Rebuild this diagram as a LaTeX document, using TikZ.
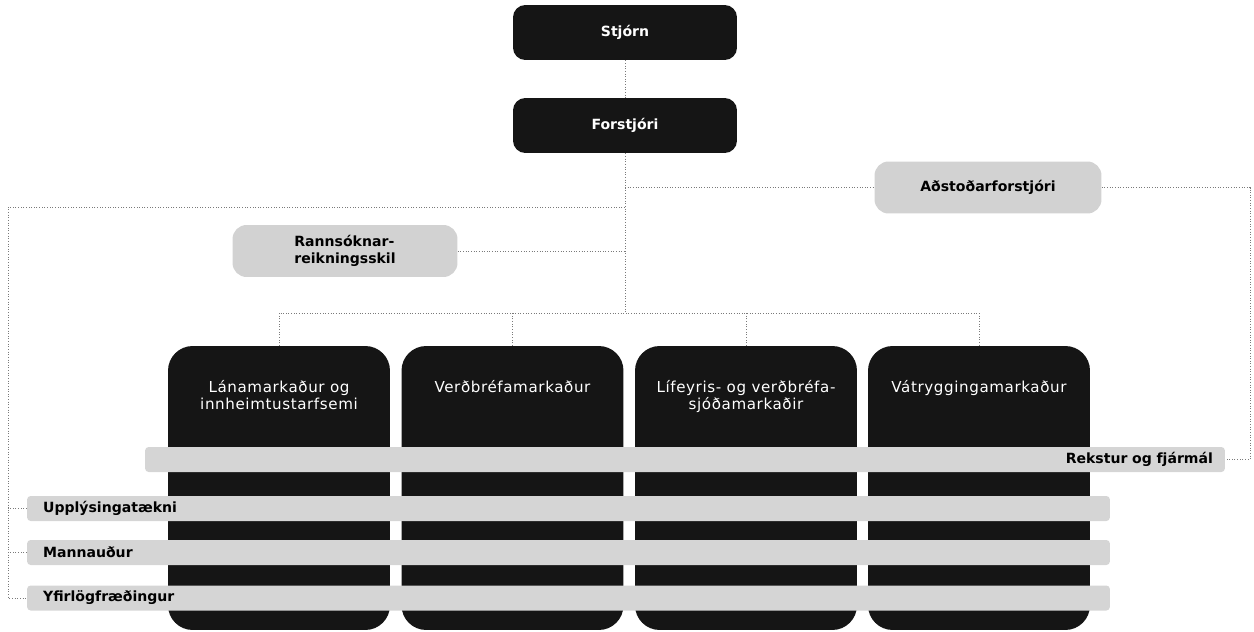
\documentclass[tikz,border=0pt]{standalone}
\usepackage{fontspec}
\setmainfont{DejaVu Sans}
\newfontfamily\colfont[LetterSpace=4]{DejaVu Sans}
\usetikzlibrary{positioning}

\definecolor{boxblack}{HTML}{151515}
\definecolor{boxgray}{HTML}{D2D2D2}
\definecolor{bandgray}{HTML}{D5D5D5}
\definecolor{linegray}{HTML}{7A7A7A}

\begin{document}
\begin{tikzpicture}[x=0.02cm,y=-0.02cm,
	topbox/.style={fill=boxblack, rounded corners=7pt, minimum width=4.48cm, minimum height=1.1cm,
		text=white, font=\fontsize{8}{10}\selectfont\bfseries},
	graybox/.style={fill=boxgray, rounded corners=8pt, minimum height=1.04cm, align=left,
		font=\fontsize{8}{9.5}\selectfont\bfseries},
	colbox/.style={fill=boxblack, rounded corners=14pt, minimum width=4.44cm, minimum height=5.68cm},
	coltext/.style={text=white, align=center, inner sep=0pt, font=\colfont\fontsize{8.6}{9.8}\selectfont},
	band/.style={fill=bandgray, rounded corners=2pt, minimum height=0.5cm, inner ysep=0pt,
		font=\fontsize{8}{9}\selectfont\bfseries},
	conn/.style={densely dotted, linegray, line width=0.5pt}]

	\useasboundingbox (0,0) rectangle (1254,632);

	% top of the chart
	\node [topbox] (stjorn) at (625,32.5) {Stjórn};
	\node [topbox] (forstjori) at (625,125.5) {Forstjóri};
	\node [graybox, minimum width=4.54cm] (adstod) at (988,187.5) {Aðstoðarforstjóri};
	\node [graybox, minimum width=4.5cm] (rann) at (345,251) {Rannsóknar-\\reikningsskil};

	% market departments
	\node [colbox] (c1) at (279,488) {};
	\node [colbox] (c2) at (512.5,488) {};
	\node [colbox] (c3) at (746,488) {};
	\node [colbox] (c4) at (979,488) {};
	\node [coltext, below=0.68cm of c1.north] (c1t) {Lánamarkaður og\\innheimtustarfsemi};
	\node [coltext, below=0.68cm of c2.north] (c2t) {Verðbréfamarkaður};
	\node [coltext, below=0.68cm of c3.north] (c3t) {Lífeyris- og verðbréfa-\\sjóðamarkaðir};
	\node [coltext, below=0.68cm of c4.north] (c4t) {Vátryggingamarkaður};

	% support units across the columns
	\node [band, text width=21.12cm, inner xsep=0.24cm, align=right] (rekstur) at (685,459.5) {Rekstur og fjármál};
	\node [band, text width=21.02cm, inner xsep=0.32cm, align=left] (upp) at (568.5,508.5) {Upplýsingatækni};
	\node [band, text width=21.02cm, inner xsep=0.32cm, align=left] (mann) at (568.5,552.5) {Mannauður};
	\node [band, text width=21.02cm, inner xsep=0.32cm, align=left] (yfir) at (568.5,598) {Yfirlögfræðingur};

	\coordinate (bus) at (625,313);
	\coordinate (leftrail) at (8,207);
	\coordinate (rightrail) at (1250,300);

	\draw [conn] (stjorn) -- (forstjori);
	\draw [conn] (forstjori) -- (bus);
	\draw [conn] (c1.north) |- (bus) -| (c4.north);
	\draw [conn] (c2.north) -- (c2.north |- bus);
	\draw [conn] (c3.north) -- (c3.north |- bus);
	\draw [conn] (rann.east) -- (rann.east -| bus);
	\draw [conn] (adstod.west -| bus) -- (adstod.west);
	\draw [conn] (adstod.east) -| (rightrail) |- (rekstur.east);
	\draw [conn] (leftrail -| bus) -- (leftrail) |- (yfir.west);
	\draw [conn] (upp.west) -- (upp.west -| leftrail);
	\draw [conn] (mann.west) -- (mann.west -| leftrail);

\end{tikzpicture}
\end{document}
